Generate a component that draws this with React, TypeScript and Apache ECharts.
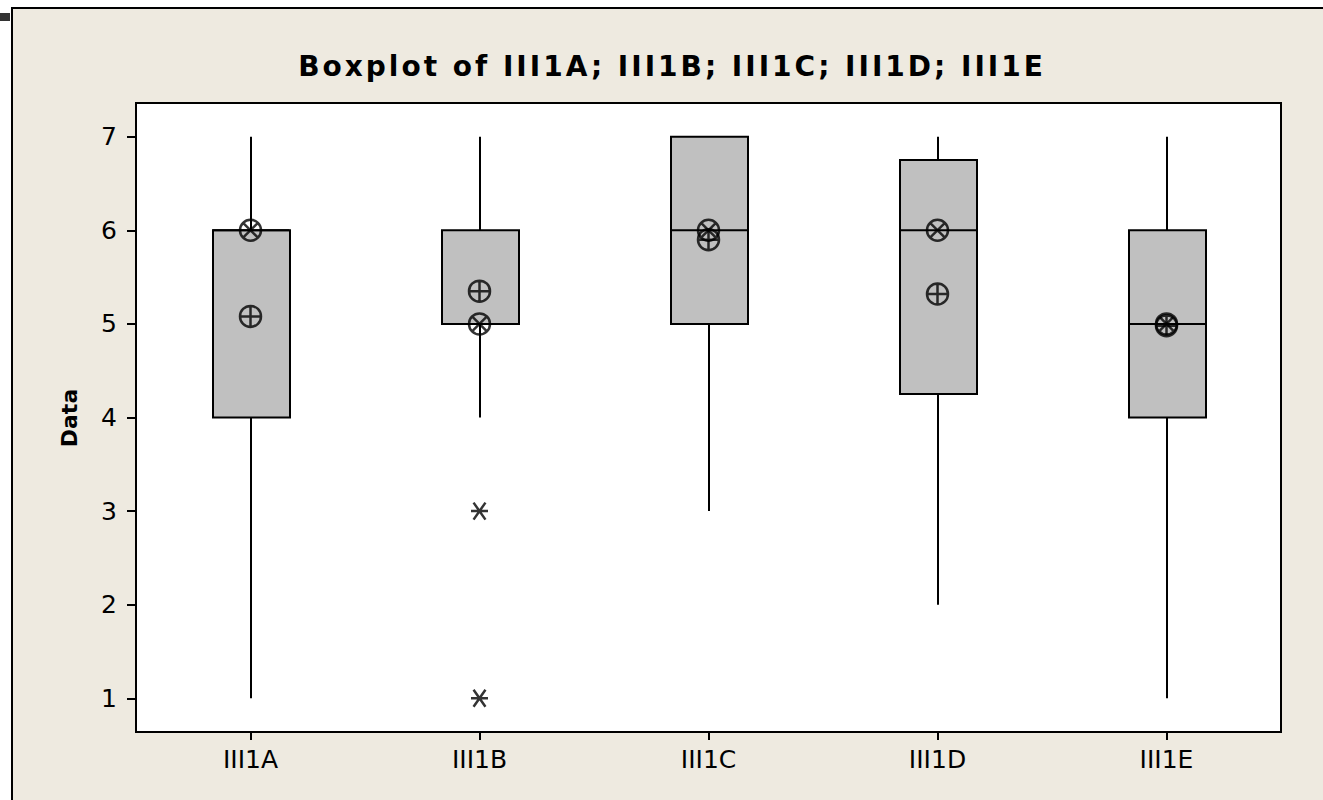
import React, { useEffect, useRef } from "react";
import * as echarts from "echarts";

const categories = ["III1A", "III1B", "III1C", "III1D", "III1E"];
// [low whisker, Q1, median, Q3, high whisker]
const whiskerLow = [1, 4, 3, 2, 1];
const q1Values = [4, 5, 5, 4.25, 4];
const medianValues = [6, 5, 6, 6, 5];
const q3Values = [6, 6, 7, 6.75, 6];
const whiskerHigh = [7, 7, 7, 7, 7];
const meanValues = [5.08, 5.35, 5.9, 5.32, 4.98];
const outlierCats = ["III1B", "III1B"];
const outlierValues = [3, 1];
const yTicks = [1, 2, 3, 4, 5, 6, 7];

const TITLE = "Boxplot of III1A; III1B; III1C; III1D; III1E";
const FONT = "'DejaVu Sans', Verdana, sans-serif";

const circlePlus =
  "path://M1,11 A10,10 0 1,1 21,11 A10,10 0 1,1 1,11 Z M11,1 L11,21 M1,11 L21,11";
const circleX =
  "path://M1,11 A10,10 0 1,1 21,11 A10,10 0 1,1 1,11 Z M3.93,3.93 L18.07,18.07 M18.07,3.93 L3.93,18.07";
const asterisk = "path://M0,10 L20,10 M3,3 L17,17 M17,3 L3,17";

export default function App() {
  const ref = useRef<HTMLDivElement>(null);
  useEffect(() => {
    if (!ref.current) return;
    document.body.style.margin = "0";
    document.body.style.overflow = "hidden";
    document.body.style.background = "#ffffff";
    const chart = echarts.init(ref.current, null, { renderer: "svg" });
    const boxData = categories.map((_, i) => [
      i,
      whiskerLow[i],
      q1Values[i],
      medianValues[i],
      q3Values[i],
      whiskerHigh[i],
    ]);
    const option: any = {
      animation: false,
      backgroundColor: "#EEEAE0",
      graphic: [
        {
          type: "rect",
          z: -99,
          shape: { x: 0, y: 0, width: 1323, height: 7 },
          style: { fill: "#ffffff" },
        },
        {
          type: "rect",
          z: -99,
          shape: { x: 0, y: 0, width: 11, height: 800 },
          style: { fill: "#ffffff" },
        },
        {
          type: "line",
          z: -98,
          shape: { x1: 12, y1: 7, x2: 12, y2: 800 },
          style: { stroke: "#000", lineWidth: 2 },
        },
        {
          type: "line",
          z: -98,
          shape: { x1: 11, y1: 8, x2: 1323, y2: 8 },
          style: { stroke: "#000", lineWidth: 2 },
        },
        {
          type: "rect",
          z: -98,
          shape: { x: 0, y: 13, width: 10, height: 8 },
          style: { fill: "#333333" },
        },
        {
          type: "text",
          x: 672,
          y: 66,
          style: {
            text: TITLE,
            font: `bold 28px ${FONT}`,
            fill: "#000",
            align: "center",
            verticalAlign: "middle",
          },
        },
        {
          type: "text",
          x: 69,
          y: 418,
          rotation: Math.PI / 2,
          style: {
            text: "Data",
            font: `bold 22px ${FONT}`,
            fill: "#000",
            align: "center",
            verticalAlign: "middle",
          },
        },
      ],
      grid: {
        left: 136,
        top: 103,
        right: 42,
        bottom: 68,
        show: true,
        backgroundColor: "#ffffff",
        borderColor: "#000",
        borderWidth: 2,
      },
      xAxis: {
        type: "category",
        data: categories,
        boundaryGap: true,
        axisLine: { show: true, lineStyle: { color: "#000", width: 2 } },
        axisTick: {
          show: true,
          alignWithLabel: true,
          length: 8,
          lineStyle: { color: "#000", width: 2 },
        },
        axisLabel: {
          color: "#000",
          fontSize: 25,
          fontFamily: FONT,
          margin: 15,
        },
        splitLine: { show: false },
      },
      yAxis: {
        type: "value",
        min: 0.64,
        max: 7.36,
        axisLine: { show: true, lineStyle: { color: "#000", width: 2 } },
        axisTick: {
          show: true,
          length: 9,
          customValues: yTicks,
          lineStyle: { color: "#000", width: 2 },
        },
        axisLabel: {
          color: "#000",
          fontSize: 25,
          fontFamily: FONT,
          margin: 19,
          customValues: yTicks,
        },
        splitLine: { show: false },
      },
      series: [
        {
          type: "custom",
          name: "Box",
          data: boxData,
          encode: { x: 0, y: [1, 2, 3, 4, 5] },
          z: 2,
          renderItem: (params: any, api: any) => {
            const xi = api.value(0);
            const low = api.coord([xi, api.value(1)]);
            const q1 = api.coord([xi, api.value(2)]);
            const med = api.coord([xi, api.value(3)]);
            const q3 = api.coord([xi, api.value(4)]);
            const high = api.coord([xi, api.value(5)]);
            const bw = api.size([1, 0])[0] * 0.336;
            const cx = Math.round(low[0]);
            const lineStyle = { stroke: "#000", lineWidth: 2 };
            return {
              type: "group",
              children: [
                {
                  type: "line",
                  shape: { x1: cx, y1: low[1], x2: cx, y2: q1[1] },
                  style: lineStyle,
                },
                {
                  type: "line",
                  shape: { x1: cx, y1: q3[1], x2: cx, y2: high[1] },
                  style: lineStyle,
                },
                {
                  type: "rect",
                  shape: {
                    x: Math.round(cx - bw / 2),
                    y: q3[1],
                    width: Math.round(bw),
                    height: q1[1] - q3[1],
                  },
                  style: { fill: "#C0C0C0", stroke: "#000", lineWidth: 2 },
                },
                {
                  type: "line",
                  shape: { x1: cx - bw / 2, y1: med[1], x2: cx + bw / 2, y2: med[1] },
                  style: { stroke: "#000", lineWidth: 2 },
                },
              ],
            };
          },
        },
        {
          type: "scatter",
          name: "Median",
          z: 3,
          data: categories.map((c, i) => [c, medianValues[i]]),
          symbol: circleX,
          symbolSize: 21,
          itemStyle: { color: "none", borderColor: "#000", borderWidth: 2.5 },
        },
        {
          type: "scatter",
          name: "Mean",
          z: 4,
          data: categories.map((c, i) => [c, meanValues[i]]),
          symbol: circlePlus,
          symbolSize: 21,
          itemStyle: { color: "none", borderColor: "#000", borderWidth: 2.5 },
        },
        {
          type: "scatter",
          name: "Outlier",
          z: 4,
          data: outlierCats.map((c, i) => [c, outlierValues[i]]),
          symbol: asterisk,
          symbolSize: 17,
          itemStyle: { color: "none", borderColor: "#000", borderWidth: 2.5 },
        },
      ],
    };
    chart.setOption(option);
    const spaceTitle = () => {
      ref.current?.querySelectorAll("text").forEach((t) => {
        if ((t.textContent || "").startsWith("Boxplot")) {
          t.setAttribute("letter-spacing", "3");
        }
      });
    };
    spaceTitle();
    chart.on("finished", spaceTitle);
    return () => chart.dispose();
  }, []);
  return <div ref={ref} style={{ width: 1323, height: 800 }} />;
}
